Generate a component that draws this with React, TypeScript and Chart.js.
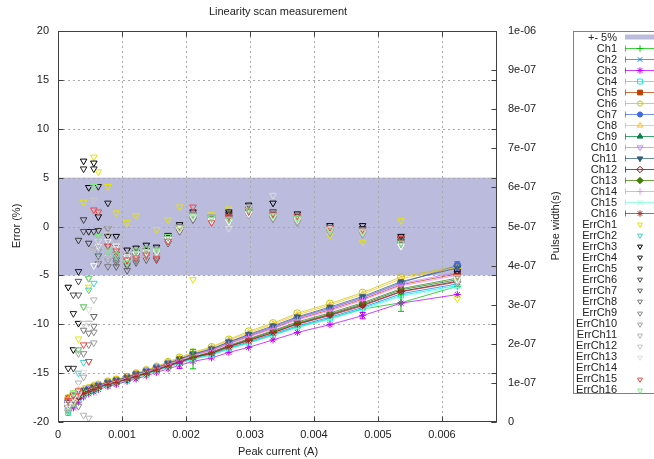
import React, { useEffect, useRef } from 'react';
import { Chart, registerables } from 'chart.js';
Chart.register(...registerables);

const W = 654, H = 459;
const FONT = '"Liberation Sans", Arial, sans-serif';

const chartTitle = 'Linearity scan measurement';
const xTitle = 'Peak current (A)';
const yTitle = 'Error (%)';
const y2Title = 'Pulse width(s)';
const bandLabel = '+- 5%';
const bandLow = -5;
const bandHigh = 5;

// Peak current (A)
const current = [0.00016, 0.00024, 0.00032, 0.0004, 0.00048, 0.00056, 0.00063, 0.00078, 0.00091, 0.00108, 0.00122, 0.00138, 0.00154, 0.00172, 0.0019, 0.00211, 0.0024, 0.00267, 0.00298, 0.00336, 0.00374, 0.00425, 0.00476, 0.00536, 0.00624];

// Pulse width per channel, in ns (right axis)
const ch1 = [32, 46, 59, 70, 76, 81, 87, 94, 99, 107, 114, 122, 131, 140, 150, 161, 171, 187, 202, 222, 242, 264, 289, 305, 347];
const ch2 = [35, 48, 61, 71, 77, 82, 88, 95, 100, 108, 115, 123, 132, 142, 152, 163, 174, 189, 205, 225, 246, 268, 293, 328, 353];
const ch3 = [30, 36, 51, 64, 72, 77, 83, 91, 96, 104, 110, 118, 127, 136, 145, 155, 164, 178, 191, 210, 229, 249, 272, 304, 326];
const ch4 = [23, 46, 60, 70, 76, 81, 87, 95, 100, 107, 115, 122, 131, 141, 151, 162, 172, 188, 203, 223, 244, 265, 290, 324, 349];
const ch5 = [62, 61, 71, 78, 82, 88, 92, 100, 105, 113, 121, 128, 137, 148, 159, 171, 183, 201, 219, 240, 263, 287, 314, 351, 379];
const ch6 = [61, 72, 79, 84, 87, 92, 96, 104, 109, 116, 125, 133, 142, 154, 165, 178, 192, 211, 232, 253, 278, 303, 331, 371, 398];
const ch7 = [52, 64, 73, 80, 84, 89, 93, 101, 106, 114, 122, 130, 139, 150, 160, 173, 186, 204, 222, 243, 267, 291, 318, 356, 400];
const ch8 = [58, 69, 77, 83, 86, 91, 95, 103, 108, 115, 124, 132, 141, 152, 163, 176, 190, 209, 228, 250, 274, 299, 327, 366, 396];
const ch9 = [46, 54, 65, 74, 79, 84, 90, 97, 102, 110, 118, 125, 134, 145, 155, 166, 178, 194, 211, 232, 253, 276, 302, 338, 364];
const ch10 = [51, 63, 72, 79, 83, 88, 93, 100, 106, 113, 122, 129, 138, 149, 160, 172, 185, 203, 221, 242, 265, 290, 317, 354, 383];
const ch11 = [54, 65, 74, 81, 84, 89, 94, 101, 107, 114, 123, 130, 139, 150, 161, 174, 187, 205, 224, 246, 269, 294, 321, 359, 394];
const ch12 = [39, 52, 64, 73, 79, 84, 89, 97, 102, 109, 117, 125, 134, 144, 154, 165, 176, 193, 209, 229, 251, 274, 299, 334, 360];
const ch13 = [43, 56, 67, 75, 80, 85, 90, 98, 103, 111, 118, 126, 135, 145, 156, 167, 179, 196, 213, 234, 256, 279, 305, 341, 368];
const ch14 = [47, 59, 69, 77, 82, 87, 91, 99, 104, 112, 120, 128, 137, 147, 158, 170, 182, 199, 217, 238, 261, 284, 311, 348, 375];
const ch15 = [31, 45, 58, 69, 75, 81, 86, 94, 99, 107, 114, 121, 130, 140, 150, 160, 171, 186, 201, 221, 241, 263, 287, 321, 345];
const ch16 = [38, 51, 63, 73, 78, 83, 89, 96, 101, 109, 116, 124, 133, 143, 153, 165, 176, 192, 208, 228, 250, 272, 297, 333, 358];

// Uncertainty (ns) of a few channels
const uncCh1 = [0, 0, 0, 0, 0, 0, 0, 0, 0, 0, 0, 0, 0, 0, 0, 25, 0, 0, 0, 0, 0, 0, 0, 22, 0];
const uncCh3 = [0, 0, 0, 0, 0, 0, 0, 0, 0, 0, 0, 0, 0, 0, 8, 0, 0, 0, 0, 0, 0, 0, 8, 0, 0];
const uncCh7 = [0, 0, 0, 0, 0, 0, 0, 0, 0, 0, 0, 0, 0, 0, 0, 0, 0, 0, 0, 0, 0, 0, 0, 0, 10];

// Error (%) per channel (left axis)
const err1 = [-18.5, -18.0, -11.5, 2.5, -6.2, 7.1, 5.6, 4.1, 1.4, 0.4, 1.1, -2.5, -0.3, 0.7, 2.0, -5.4, 1.2, 1.8, 1.4, 1.0, 0.5, -0.9, -1.6, 0.6, -7.4];
const err2 = [-18.8, -17.6, -15.0, -13.9, -6.5, -5.8, -3.0, -2.5, -3.1, -3.6, -2.8, -2.9, -2.6, -1.2, -0.2, 1.0, 0.8, 1.0, 1.6, 1.2, 0.9, -0.2, -0.4, -1.4, -5.0];
const err3 = [-6.2, -12.6, -9.9, 6.7, 4.0, 6.5, 1.0, -1.0, -1.0, -2.4, -2.2, -1.9, -2.1, -0.9, 0.2, 1.5, 0.9, 1.5, 2.2, 2.4, 1.3, 0.1, 0.1, -1.0, -4.6];
const err4 = [-14.5, -8.9, -4.6, 5.9, -0.5, 5.9, 4.1, 2.4, -2.1, -3.0, -2.6, -2.4, -2.5, -1.1, -0.1, 1.2, 0.7, 1.3, 2.0, 1.5, 1.0, -0.1, -0.2, -1.2, -4.8];
const err5 = [-18.2, -14.5, -1.4, 0.7, -1.7, -0.5, -0.4, -0.2, -2.8, -3.5, -3.0, -2.8, -2.9, -1.4, -0.3, 0.9, 0.6, 1.2, 1.8, 1.2, 0.8, -0.2, -0.3, -1.3, -5.0];
const err6 = [-18.0, -7.0, -5.6, -0.5, -5.3, -2.4, -2.0, -2.0, -3.4, -4.0, -3.3, -3.1, -3.4, -1.7, -0.5, 0.7, 0.5, 1.0, 1.6, 1.0, 0.6, -0.3, -0.5, -1.5, -5.2];
const err7 = [-18.6, -17.8, -7.0, -8.2, -9.9, -9.2, -3.0, -3.0, -4.1, -4.5, -3.7, -3.4, -2.7, -1.0, -0.4, 1.0, 0.8, 0.9, 1.5, 0.9, 0.4, -0.4, -0.6, -1.6, -5.4];
const err8 = [-17.9, -18.3, -12.6, -10.6, -10.9, -10.2, -3.8, -4.1, -3.7, -3.2, -2.9, -2.6, -3.2, -1.5, 0.0, 1.1, 0.9, 0.8, 1.3, 0.8, 0.5, -0.5, -0.7, -1.7, -5.6];
const err9 = [-19.0, -17.2, -18.4, -13.0, -12.1, -10.8, -1.0, -1.5, -2.4, -3.8, -3.5, -3.0, -2.3, -1.2, -0.2, 1.3, 0.7, 0.7, 1.2, 0.8, 0.6, -0.6, -0.8, -1.8, -5.8];
const err10 = [-18.4, -17.6, -13.0, -15.4, -13.8, -11.9, -2.5, -3.5, -3.3, -3.0, -2.4, -2.2, -2.8, -1.3, -0.1, 1.2, 1.0, 0.8, 1.9, 1.4, 0.7, -0.3, -0.4, -1.9, -5.5];
const err11 = [-17.7, -18.1, -16.0, -19.3, -19.6, -7.5, -3.4, -0.2, -1.5, -3.6, -3.1, -2.7, -3.0, -1.6, -0.3, 0.8, 0.6, 0.6, 1.4, 0.9, 0.4, -0.4, -0.6, -2.0, -5.3];
const err12 = [-18.6, -17.4, -17.0, -9.9, -9.9, 2.7, 1.5, -0.8, -2.6, -2.8, -2.7, -3.2, -2.6, -1.3, -0.4, 1.0, 0.5, 0.5, 1.3, 1.1, 0.6, -0.5, -0.7, -2.1, -5.7];
const err13 = [-18.1, -17.9, -17.2, -14.9, -8.5, -2.4, -1.5, -3.0, -2.2, -3.3, -3.2, -2.9, -2.7, -1.4, -0.3, 0.9, 0.7, -0.2, 2.0, 3.2, 0.9, -0.2, -0.6, -2.0, -5.5];
const err14 = [-18.3, -17.5, -16.5, -12.0, -10.0, -4.0, -2.0, -1.5, -2.0, -3.1, -2.8, -2.6, -2.5, -1.3, -0.2, 1.0, 0.6, 0.5, 1.3, 1.0, 0.7, -0.3, -0.5, -2.0, -5.4];
const err15 = [-17.8, -17.3, -16.8, -12.1, -13.8, 1.7, 1.5, -2.0, -2.5, -3.4, -3.2, -2.9, -3.3, -1.5, -0.1, 2.0, 0.4, 1.0, 1.6, 1.3, 1.1, -0.1, -0.3, -1.2, -5.1];
const err16 = [-18.9, -17.0, -12.6, -8.2, -5.3, 4.1, -1.0, -2.5, -2.9, -3.7, -2.5, -2.3, -2.4, -1.0, -0.1, 1.1, 0.9, 0.7, 1.7, 1.1, 0.8, -0.3, -0.5, -1.7, -5.2];

const chLabels = ['Ch1', 'Ch2', 'Ch3', 'Ch4', 'Ch5', 'Ch6', 'Ch7', 'Ch8', 'Ch9', 'Ch10', 'Ch11', 'Ch12', 'Ch13', 'Ch14', 'Ch15', 'Ch16'];
const errLabels = ['ErrCh1', 'ErrCh2', 'ErrCh3', 'ErrCh4', 'ErrCh5', 'ErrCh6', 'ErrCh7', 'ErrCh8', 'ErrCh9', 'ErrCh10', 'ErrCh11', 'ErrCh12', 'ErrCh13', 'ErrCh14', 'ErrCh15', 'ErrCh16'];

const chSeries = [ch1, ch2, ch3, ch4, ch5, ch6, ch7, ch8, ch9, ch10, ch11, ch12, ch13, ch14, ch15, ch16];
const errSeries = [err1, err2, err3, err4, err5, err6, err7, err8, err9, err10, err11, err12, err13, err14, err15, err16];
const uncSeries: any[] = [uncCh1, null, uncCh3, null, null, null, uncCh7, null, null, null, null, null, null, null, null, null];

const chColors = ['#00c000', '#0080ff', '#c000ff', '#00eeee', '#c04000', '#c8c800', '#4169e1', '#ffc020', '#008040', '#c080ff', '#306080', '#8b0000', '#408000', '#ff80ff', '#7fffd4', '#a52a2a'];
const chStyles: any[] = [
  ['cross', false, 0], ['crossRot', false, 0], ['star', false, 0], ['rect', false, 0],
  ['rect', true, 0], ['circle', false, 0], ['circle', true, 0], ['triangle', false, 0],
  ['triangle', true, 0], ['triangle', false, 180], ['triangle', true, 180], ['rectRot', false, 0],
  ['rectRot', true, 0], ['cross', false, 0], ['crossRot', false, 0], ['star', false, 0],
];
const errColors = ['#e6e600', '#40d0d0', '#000000', '#1e1e1e', '#3c3c3c', '#505050', '#646464', '#787878', '#8c8c8c', '#a0a0a0', '#b4b4b4', '#c8c8c8', '#dcdcdc', '#ffffff', '#f04848', '#80f080'];
const bandColor = '#bbbbdd';
const textColor = '#222222';

function withAlpha(hex: string, a: number) {
  const n = parseInt(hex.slice(1), 16);
  return `rgba(${(n >> 16) & 255},${(n >> 8) & 255},${n & 255},${a})`;
}

function drawMarker(ctx: any, style: string, filled: boolean, rot: number, x: number, y: number, r: number, color: string) {
  ctx.save();
  ctx.translate(x, y);
  ctx.rotate((rot * Math.PI) / 180);
  ctx.lineWidth = 1;
  ctx.setLineDash([]);
  ctx.strokeStyle = color;
  ctx.fillStyle = color;
  ctx.beginPath();
  if (style === 'cross' || style === 'star') {
    ctx.moveTo(-r, 0); ctx.lineTo(r, 0); ctx.moveTo(0, -r); ctx.lineTo(0, r);
  }
  if (style === 'crossRot' || style === 'star') {
    const d = r * 0.707;
    ctx.moveTo(-d, -d); ctx.lineTo(d, d); ctx.moveTo(-d, d); ctx.lineTo(d, -d);
  }
  if (style === 'rect') { const s = r * 0.75; ctx.rect(-s, -s, 2 * s, 2 * s); }
  if (style === 'rectRot') { ctx.moveTo(0, -r); ctx.lineTo(r, 0); ctx.lineTo(0, r); ctx.lineTo(-r, 0); ctx.closePath(); }
  if (style === 'circle') ctx.arc(0, 0, r * 0.8, 0, Math.PI * 2);
  if (style === 'triangle') { ctx.moveTo(0, -r); ctx.lineTo(r * 0.866, r * 0.5); ctx.lineTo(-r * 0.866, r * 0.5); ctx.closePath(); }
  if (filled && style !== 'cross' && style !== 'crossRot' && style !== 'star') ctx.fill();
  ctx.stroke();
  ctx.restore();
}

const framePlugin = {
  id: 'gnuFrame',
  beforeDraw(chart: any) {
    const { ctx, chartArea: a, scales } = chart;
    const x = scales.x, y = scales.y;
    ctx.save();
    ctx.fillStyle = '#ffffff';
    ctx.fillRect(0, 0, chart.width, chart.height);
    const t = y.getPixelForValue(bandHigh), b = y.getPixelForValue(bandLow);
    ctx.fillStyle = bandColor;
    ctx.fillRect(a.left, t, a.right - a.left, b - t);
    ctx.strokeStyle = '#a8a8a8';
    ctx.lineWidth = 1;
    ctx.setLineDash([2, 3]);
    for (const tk of x.ticks) {
      const px = Math.round(x.getPixelForValue(tk.value)) + 0.5;
      if (px < a.left + 2 || px > a.right - 2) continue;
      ctx.beginPath(); ctx.moveTo(px, a.top); ctx.lineTo(px, a.bottom); ctx.stroke();
    }
    for (const tk of y.ticks) {
      const py = Math.round(y.getPixelForValue(tk.value)) + 0.5;
      if (py < a.top + 2 || py > a.bottom - 2) continue;
      ctx.beginPath(); ctx.moveTo(a.left, py); ctx.lineTo(a.right, py); ctx.stroke();
    }
    ctx.restore();
  },
  afterDatasetsDraw(chart: any) {
    const { ctx } = chart;
    ctx.save();
    chart.data.datasets.forEach((ds: any, i: number) => {
      if (!ds.unc) return;
      const meta = chart.getDatasetMeta(i);
      const sc = chart.scales[ds.yAxisID];
      ds.data.forEach((p: any, j: number) => {
        const u = ds.unc[j];
        if (!u) return;
        const px = meta.data[j].x;
        const y1 = sc.getPixelForValue(p.y - u), y2 = sc.getPixelForValue(p.y + u);
        ctx.strokeStyle = ds.pointBorderColor;
        ctx.lineWidth = 1;
        ctx.beginPath();
        ctx.moveTo(px, y1); ctx.lineTo(px, y2);
        ctx.moveTo(px - 3, y1); ctx.lineTo(px + 3, y1);
        ctx.moveTo(px - 3, y2); ctx.lineTo(px + 3, y2);
        ctx.stroke();
      });
    });
    ctx.restore();
  },
  afterDraw(chart: any) {
    const { ctx, chartArea: a, scales } = chart;
    const x = scales.x, y = scales.y, y2 = scales.y2;
    ctx.save();
    ctx.setLineDash([]);
    ctx.strokeStyle = '#404040';
    ctx.lineWidth = 1;
    const L = Math.round(a.left) + 0.5, R = Math.round(a.right) - 0.5, T = Math.round(a.top) + 0.5, B = Math.round(a.bottom) - 0.5;
    ctx.strokeRect(L, T, R - L, B - T);
    ctx.beginPath();
    for (const tk of x.ticks) {
      const px = Math.round(x.getPixelForValue(tk.value)) + 0.5;
      ctx.moveTo(px, B); ctx.lineTo(px, B - 5);
      ctx.moveTo(px, T); ctx.lineTo(px, T + 5);
    }
    for (const tk of y.ticks) {
      const py = Math.round(y.getPixelForValue(tk.value)) + 0.5;
      ctx.moveTo(L, py); ctx.lineTo(L + 5, py);
      ctx.moveTo(R, py); ctx.lineTo(R - 5, py);
    }
    for (const tk of y2.ticks) {
      const py = Math.round(y2.getPixelForValue(tk.value)) + 0.5;
      ctx.moveTo(R, py); ctx.lineTo(R - 5, py);
    }
    ctx.stroke();

    // titles
    ctx.fillStyle = textColor;
    ctx.font = `11px ${FONT}`;
    ctx.textAlign = 'center';
    ctx.textBaseline = 'middle';
    ctx.fillText(chartTitle, 278, 12);
    ctx.fillText(xTitle, 278, 452);
    ctx.save(); ctx.translate(17, 226); ctx.rotate(-Math.PI / 2); ctx.fillText(yTitle, 0, 0); ctx.restore();
    ctx.save(); ctx.translate(556, 226); ctx.rotate(-Math.PI / 2); ctx.fillText(y2Title, 0, 0); ctx.restore();

    // legend
    const lx = 573.5, ly = 31.5, rowH = 11.02, row0 = 37;
    ctx.fillStyle = '#ffffff';
    ctx.fillRect(lx, ly, 100, 362);
    ctx.strokeStyle = '#808080';
    ctx.strokeRect(lx, ly, 100, 362);
    ctx.textAlign = 'right';
    const textX = 617, sx0 = 625, sx1 = 660, mx = 640;
    const rows: any[] = [{ label: bandLabel, kind: 'band' }];
    chLabels.forEach((l, i) => rows.push({ label: l, kind: 'ch', i }));
    errLabels.forEach((l, i) => rows.push({ label: l, kind: 'err', i }));
    rows.forEach((r, k) => {
      const cy = row0 + rowH * k;
      ctx.fillStyle = textColor;
      ctx.fillText(r.label, textX, cy + 0.5);
      if (r.kind === 'band') {
        ctx.fillStyle = bandColor;
        ctx.fillRect(sx0, cy - 2.5, sx1 - sx0, 5);
      } else if (r.kind === 'ch') {
        const c = chColors[r.i];
        const py = Math.round(cy) + 0.5;
        ctx.strokeStyle = withAlpha(c, 0.75);
        ctx.lineWidth = 1;
        ctx.beginPath();
        ctx.moveTo(sx0, py); ctx.lineTo(sx1, py);
        ctx.moveTo(sx0 + 0.5, py - 3); ctx.lineTo(sx0 + 0.5, py + 3);
        ctx.stroke();
        const st = chStyles[r.i];
        drawMarker(ctx, st[0], st[1], st[2], mx, py, 3.2, c);
      } else {
        drawMarker(ctx, 'triangle', false, 180, mx, Math.round(cy) + 0.5, 2.8, errColors[r.i]);
      }
    });
    ctx.restore();
  },
};

function fmtX(v: number) {
  if (Math.abs(v) < 1e-12) return '0';
  return String(parseFloat(v.toFixed(4)));
}
function fmtY2(v: number) {
  if (v === 0) return '0';
  if (v >= 1000) return '1e-06';
  return `${Math.round(v / 100)}e-07`;
}

export default function App() {
  const ref = useRef<HTMLCanvasElement | null>(null);
  useEffect(() => {
    if (!ref.current) return;
    const datasets: any[] = [];
    chSeries.forEach((vals, i) => {
      const st = chStyles[i];
      datasets.push({
        label: chLabels[i],
        yAxisID: 'y2',
        showLine: true,
        data: current.map((c, j) => ({ x: c, y: vals[j] })),
        borderColor: withAlpha(chColors[i], 0.75),
        borderWidth: 1,
        pointStyle: st[0],
        pointRotation: st[2],
        pointRadius: 3.5,
        pointBorderWidth: 1,
        pointBorderColor: chColors[i],
        pointBackgroundColor: st[1] ? chColors[i] : 'rgba(0,0,0,0)',
        tension: 0,
        unc: uncSeries[i],
        order: -datasets.length,
      });
    });
    errSeries.forEach((vals, i) => {
      datasets.push({
        label: errLabels[i],
        yAxisID: 'y',
        showLine: false,
        data: current.map((c, j) => ({ x: c, y: vals[j] })),
        pointStyle: 'triangle',
        pointRotation: 180,
        pointRadius: 3.8,
        pointBorderWidth: 1,
        pointBorderColor: errColors[i],
        pointBackgroundColor: 'rgba(0,0,0,0)',
        borderColor: errColors[i],
        order: -datasets.length,
      });
    });
    const tickFont = { family: FONT, size: 11 };
    const chart = new Chart(ref.current, {
      type: 'scatter',
      data: { datasets },
      plugins: [framePlugin],
      options: {
        responsive: false,
        animation: false,
        devicePixelRatio: 1,
        events: [],
        layout: { padding: { top: 31, left: 0, right: 0, bottom: 0 } },
        plugins: { legend: { display: false }, title: { display: false }, tooltip: { enabled: false } },
        scales: {
          x: {
            type: 'linear', position: 'bottom', min: 0, max: 0.00686,
            grid: { display: false, drawTicks: false, tickLength: 0 }, border: { display: false },
            ticks: { stepSize: 0.001, includeBounds: false, autoSkip: false, maxRotation: 0, padding: 6, color: textColor, font: tickFont, callback: (v: any) => fmtX(Number(v)) },
            afterFit: (s: any) => { s.height = 37; },
          },
          y: {
            type: 'linear', position: 'left', min: -20, max: 20,
            grid: { display: false, drawTicks: false, tickLength: 0 }, border: { display: false },
            ticks: { stepSize: 5, padding: 9, color: textColor, font: tickFont },
            afterFit: (s: any) => { s.width = 58; },
          },
          y2: {
            type: 'linear', position: 'right', min: 0, max: 1000,
            grid: { display: false, drawTicks: false, tickLength: 0 }, border: { display: false },
            ticks: { stepSize: 100, padding: 11, color: textColor, font: tickFont, callback: (v: any) => fmtY2(Number(v)) },
            afterFit: (s: any) => { s.width = 157; },
          },
        },
      } as any,
    });
    return () => chart.destroy();
  }, []);
  return (
    <div style={{ position: 'absolute', left: 0, top: 0, width: W, height: H, background: '#fff' }}>
      <canvas ref={ref} width={W} height={H} style={{ display: 'block', width: W, height: H }} />
    </div>
  );
}
